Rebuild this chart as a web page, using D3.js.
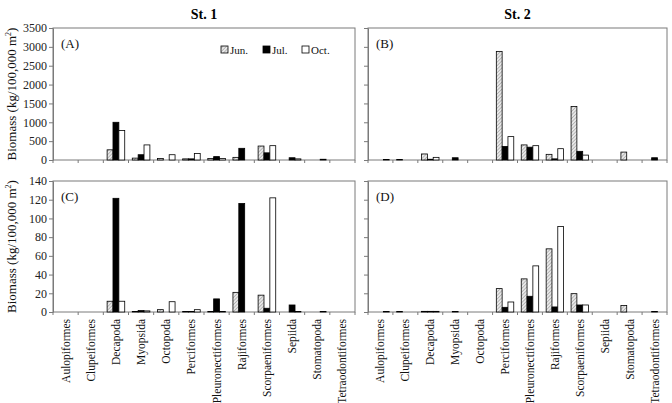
<!DOCTYPE html>
<html><head><meta charset="utf-8">
<script src="https://cdn.jsdelivr.net/npm/d3@7"></script>
<style>body{margin:0;background:#fff}svg{display:block}</style>
</head><body>
<svg id="c" width="672" height="403"></svg>
<script>
const categories = ["Aulopiformes","Clupeiformes","Decapoda","Myopsida","Octopoda","Perciformes","Pleuronectiformes","Rajiformes","Scorpaeniformes","Sepiida","Stomatopoda","Tetraodontiformes"];
const seriesNames = ["Jun.","Jul.","Oct."];
// Panel A: St.1 (kg/100,000 m2) upper
const aJun = [0,0,270,50,40,30,40,70,370,0,0,0];
const aJul = [0,0,1000,140,0,30,90,310,190,60,0,0];
const aOct = [0,0,780,400,140,170,40,0,380,30,20,0];
// Panel B: St.2 upper
const bJun = [0,15,160,0,0,2880,400,150,1420,0,210,0];
const bJul = [0,0,20,60,0,360,340,30,230,0,0,60];
const bOct = [15,0,70,0,0,620,380,300,130,0,0,0];
// Panel C: St.1 lower
const cJun = [0,0,11.5,0.5,2.5,0.5,0.5,21,18,0,0,0];
const cJul = [0,0,121.5,1.5,0,0.5,14,116,4,7.5,0,0];
const cOct = [0,0,11.5,1.2,11,2.5,0.5,0,122,0.5,0.5,0];
// Panel D: St.2 lower
const dJun = [0,0.5,0.7,0,0,25,35.4,67.5,19.6,0,7,0];
const dJul = [0,0,0.7,0.5,0,5,16.8,5.4,7.5,0,0,0.5];
const dOct = [0.5,0,0.7,0,0,10.7,49.3,91.4,7.5,0,0,0];
const upperTicks = [0,500,1000,1500,2000,2500,3000,3500];
const lowerTicks = [0,20,40,60,80,100,120,140];
const titles = ["St. 1","St. 2"];
const panelLabels = ["(A)","(B)","(C)","(D)"];

const svg = d3.select("#c");
const font = "Liberation Serif, Times New Roman, serif";
const defs = svg.append("defs");
const pat = defs.append("pattern").attr("id","hatch").attr("patternUnits","userSpaceOnUse")
  .attr("width",2.5).attr("height",2.5).attr("patternTransform","rotate(45)");
pat.append("rect").attr("width",2.5).attr("height",2.5).attr("fill","#e8e8e8");
pat.append("line").attr("x1",0).attr("y1",0).attr("x2",0).attr("y2",2.5).attr("stroke","#8a8a8a").attr("stroke-width",1);
const fills = ["url(#hatch)","#000","#fff"];

const panels = [
  {x0:53,x1:355,y0:28,y1:160,data:[aJun,aJul,aOct],ticks:upperTicks,labels:true,pl:panelLabels[0]},
  {x0:368,x1:667,y0:28,y1:160,data:[bJun,bJul,bOct],ticks:upperTicks,labels:false,pl:panelLabels[1]},
  {x0:53,x1:355,y0:181,y1:312,data:[cJun,cJul,cOct],ticks:lowerTicks,labels:true,pl:panelLabels[2],cats:true},
  {x0:368,x1:667,y0:181,y1:312,data:[dJun,dJul,dOct],ticks:lowerTicks,labels:false,pl:panelLabels[3],cats:true}
];

panels.forEach(p=>{
  const g = svg.append("g");
  const x = d3.scaleBand().domain(categories).range([p.x0,p.x1]).padding(0);
  const x1 = d3.scaleBand().domain(seriesNames).range([x.bandwidth()*0.15, x.bandwidth()*0.85]).padding(0);
  const y = d3.scaleLinear().domain([0,p.ticks[p.ticks.length-1]]).range([p.y1,p.y0]);
  g.append("rect").attr("x",p.x0).attr("y",p.y0).attr("width",p.x1-p.x0).attr("height",p.y1-p.y0)
    .attr("fill","none").attr("stroke","#7a7a7a").attr("stroke-width",1);
  const ya = d3.axisLeft(y).tickValues(p.ticks).tickSize(4).tickSizeOuter(0)
    .tickFormat(p.labels? d3.format("d") : ()=>"");
  const yg = g.append("g").attr("transform",`translate(${p.x0},0)`).call(ya);
  yg.select(".domain").attr("stroke","#7a7a7a");
  yg.selectAll(".tick line").attr("stroke","#7a7a7a");
  yg.selectAll(".tick text").attr("font-family",font).attr("font-size",12).attr("fill","#222").attr("x",-6);
  const bounds = categories.map(c=>x(c)).concat([p.x1]);
  g.selectAll(".xt").data(bounds).join("line").attr("x1",d=>d).attr("x2",d=>d)
    .attr("y1",p.y1).attr("y2",p.y1+3).attr("stroke","#7a7a7a");
  seriesNames.forEach((s,si)=>{
    g.selectAll(".b"+si).data(p.data[si].map((v,i)=>({c:categories[i],v}))).join("rect")
      .filter(d=>d.v>0)
      .attr("x",d=>x(d.c)+x1(s)).attr("width",x1.bandwidth())
      .attr("y",d=>y(d.v)).attr("height",d=>p.y1-y(d.v))
      .attr("fill",fills[si]).attr("stroke","#000").attr("stroke-width",0.8);
  });
  g.append("text").attr("x",p.x0+8).attr("y",p.y0+20).text(p.pl)
    .attr("font-family",font).attr("font-size",13).attr("fill","#111");
  if(p.cats){
    g.selectAll(".cl").data(categories).join("text")
      .attr("transform",d=>`translate(${x(d)+x.bandwidth()/2+4},${p.y1+7}) rotate(-90)`)
      .attr("text-anchor","end").text(d=>d)
      .attr("font-family",font).attr("font-size",11.5).attr("fill","#111");
  }
});

svg.append("text").attr("x",(53+355)/2).attr("y",19).attr("text-anchor","middle").text(titles[0])
  .attr("font-family",font).attr("font-size",14).attr("font-weight","bold");
svg.append("text").attr("x",(368+667)/2).attr("y",19).attr("text-anchor","middle").text(titles[1])
  .attr("font-family",font).attr("font-size",14).attr("font-weight","bold");

[ (28+160)/2, (181+312)/2 ].forEach(cy=>{
  const t = svg.append("text").attr("transform",`translate(16,${cy}) rotate(-90)`)
    .attr("text-anchor","middle").attr("font-family",font).attr("font-size",13).attr("fill","#111");
  t.append("tspan").text("Biomass (kg/100,000 m");
  t.append("tspan").attr("dy",-5).attr("font-size",8).text("2");
  t.append("tspan").attr("dy",5).text(")");
});

const lg = svg.append("g");
const lx = [221,263,302];
seriesNames.forEach((s,i)=>{
  lg.append("rect").attr("x",lx[i]).attr("y",46).attr("width",7).attr("height",7)
    .attr("fill",fills[i]).attr("stroke","#000").attr("stroke-width",0.8);
  lg.append("text").attr("x",lx[i]+9).attr("y",53.5).text(s)
    .attr("font-family",font).attr("font-size",11).attr("fill","#111");
});
</script>
</body></html>
